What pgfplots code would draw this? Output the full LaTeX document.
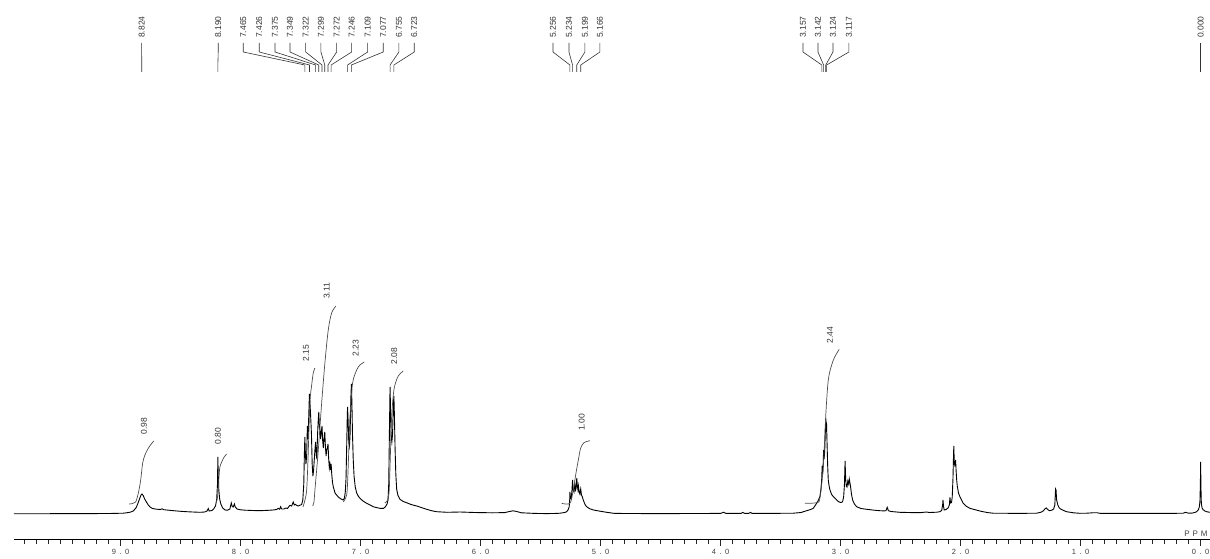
\documentclass[border=0pt]{standalone}
\usepackage{fontspec}
\setmainfont{Liberation Sans}
\usepackage{pgfplots}
\pgfplotsset{compat=1.18}
\newcommand{\pk}[2]{%
  \draw[black!80,line width=0.6pt] (axis cs:#1,471) -- (axis cs:#1,462) -- (axis cs:#2,449) -- (axis cs:#2,442);
  \node[rotate=90,anchor=west,inner sep=0pt,font=\fontsize{8.5}{9}\selectfont,text=black!80] at (axis cs:#1,476) {#2};}
\newcommand{\il}[3]{%
  \node[rotate=90,anchor=center,inner sep=0pt,font=\fontsize{8.5}{9}\selectfont,text=black!80] at (axis cs:#1,#2) {#3};}
\begin{document}
\begin{tikzpicture}
\path[use as bounding box] (0,0) rectangle (1210pt,558pt);
\begin{axis}[at={(14pt,19pt)}, anchor=south west, scale only axis,
  width=1196pt, height=539pt,
  xmin=-0.0775, xmax=9.889, ymin=-25, ymax=514,
  x dir=reverse, axis x line*=bottom, axis y line=none,
  xtick={0,1,2,3,4,5,6,7,8,9},
  xticklabels={0\hspace{3.5pt}.\hspace{3.5pt}0,1\hspace{3.5pt}.\hspace{3.5pt}0,2\hspace{3.5pt}.\hspace{3.5pt}0,3\hspace{3.5pt}.\hspace{3.5pt}0,4\hspace{3.5pt}.\hspace{3.5pt}0,5\hspace{3.5pt}.\hspace{3.5pt}0,6\hspace{3.5pt}.\hspace{3.5pt}0,7\hspace{3.5pt}.\hspace{3.5pt}0,8\hspace{3.5pt}.\hspace{3.5pt}0,9\hspace{3.5pt}.\hspace{3.5pt}0},
  minor xtick={0.1,0.2,...,9.85},
  tick align=outside, major tick length=7pt, minor tick length=5pt,
  every tick/.style={black!85, line width=0.8pt},
  axis line style={black, line width=0.9pt},
  xticklabel style={font=\fontsize{7.5}{8}\selectfont, text=black!75, anchor=north, inner sep=0pt, yshift=-3pt},
  clip=false]
\addplot[black, line width=0.9pt] coordinates {
(9.889,0.3)(9.60,0.3)(9.30,0.4)(9.10,0.5)(8.98,0.8)(8.95,1.2)(8.92,1.8)(8.895,3)(8.87,6.5)(8.855,11)(8.84,16)(8.83,19)(8.822,20)(8.812,18.5)(8.80,15)(8.785,12)(8.77,9)(8.755,7)(8.735,5.5)(8.70,4.8)(8.67,4.5)(8.655,5.2)(8.64,4.3)(8.60,3.8)(8.55,3.2)(8.50,2.7)(8.45,2.3)(8.40,2.0)(8.34,1.7)(8.30,2)(8.28,3)(8.27,5.5)(8.262,3)(8.24,3.5)(8.225,5)(8.21,8)(8.20,14)(8.193,30)(8.19,57)(8.187,40)(8.182,24)(8.175,15)(8.165,10)(8.15,6)(8.13,4)(8.11,3.8)(8.09,5)(8.078,11)(8.07,7.5)(8.062,7)(8.052,10)(8.045,7)(8.03,5)(8.00,4.2)(7.96,3.8)(7.90,3.5)(7.84,3.3)(7.77,3.7)(7.73,4)(7.70,4.5)(7.687,5.7)(7.675,4.8)(7.667,7.3)(7.658,5)(7.64,5)(7.623,6)(7.61,5.5)(7.59,8.7)(7.575,8)(7.562,12)(7.553,9)(7.545,9.7)(7.53,8.5)(7.52,8)(7.505,8.8)(7.492,9.5)(7.482,14)(7.474,30)(7.469,60)(7.465,77)(7.461,62)(7.456,50)(7.450,58)(7.444,88)(7.438,75)(7.432,100)(7.427,120)(7.422,110)(7.416,96)(7.410,80)(7.404,50)(7.398,38)(7.392,44)(7.386,55)(7.380,66)(7.375,72)(7.370,60)(7.365,55)(7.359,80)(7.353,95)(7.349,102)(7.344,88)(7.339,84)(7.334,75)(7.328,82)(7.322,88)(7.317,74)(7.311,66)(7.305,76)(7.299,82)(7.294,68)(7.288,58)(7.283,64)(7.277,66)(7.272,70)(7.267,56)(7.261,46)(7.256,50)(7.250,44)(7.246,50)(7.241,40)(7.235,32)(7.228,27)(7.22,24)(7.214,21)(7.20,19)(7.186,17)(7.17,15.5)(7.158,14.7)(7.145,14)(7.135,16)(7.128,22)(7.122,35)(7.116,70)(7.112,95)(7.109,107)(7.105,95)(7.099,72)(7.093,68)(7.088,80)(7.082,115)(7.077,130)(7.073,112)(7.068,80)(7.062,55)(7.055,38)(7.045,27)(7.033,21)(7.02,18)(7.006,15.7)(6.98,13)(6.95,10.7)(6.92,9)(6.895,7.3)(6.87,6.5)(6.84,5.7)(6.81,5.7)(6.795,7)(6.78,10)(6.772,14)(6.766,30)(6.760,85)(6.755,127)(6.751,105)(6.746,78)(6.740,72)(6.734,80)(6.728,108)(6.723,118)(6.719,100)(6.713,65)(6.707,40)(6.70,25)(6.69,19)(6.672,14.7)(6.645,12.5)(6.617,11.3)(6.58,9.5)(6.533,8)(6.49,6.3)(6.45,4.7)(6.41,3.3)(6.367,2.3)(6.28,1.7)(6.17,2)(6.05,1.5)(5.90,1.2)(5.80,1.4)(5.76,2.5)(5.73,3.2)(5.70,2.5)(5.66,1.2)(5.55,0.6)(5.45,0.4)(5.36,0.6)(5.34,0.8)(5.30,1.5)(5.283,2.3)(5.272,4)(5.262,7.3)(5.258,14)(5.256,22)(5.252,16)(5.246,15)(5.240,22)(5.234,34)(5.229,24)(5.222,22)(5.215,30)(5.209,24)(5.204,26)(5.199,36)(5.194,28)(5.189,24)(5.185,28)(5.179,22)(5.173,20)(5.166,25)(5.160,19)(5.152,17)(5.145,14)(5.13,9.5)(5.117,7.3)(5.09,5.2)(5.06,4)(5.00,2.7)(4.95,1.7)(4.89,0.7)(4.80,0.5)(4.50,0.4)(4.20,0.5)(4.00,0.6)(3.975,1.8)(3.955,0.6)(3.83,0.6)(3.815,1.6)(3.80,0.6)(3.765,0.7)(3.752,1.6)(3.74,0.7)(3.60,0.6)(3.506,0.7)(3.395,0.8)(3.33,1.5)(3.283,3.3)(3.25,4.5)(3.228,5.7)(3.20,10.7)(3.185,14)(3.173,17.3)(3.165,24)(3.158,34)(3.154,48)(3.150,40)(3.146,48)(3.142,64)(3.138,55)(3.133,62)(3.128,80)(3.124,96)(3.120,86)(3.117,88)(3.113,70)(3.108,48)(3.103,34)(3.096,28)(3.089,24)(3.075,19.5)(3.06,17.3)(3.045,15.5)(3.033,14)(3.02,12.5)(3.006,11.7)(2.995,11.5)(2.984,12.3)(2.975,17)(2.968,30)(2.963,53)(2.958,35)(2.953,28)(2.947,27)(2.940,33)(2.933,30)(2.928,35)(2.922,31)(2.917,27.3)(2.91,20)(2.90,14)(2.885,10)(2.867,7.3)(2.83,5.5)(2.783,4.7)(2.72,3.8)(2.673,3.3)(2.64,3.1)(2.622,3.3)(2.612,6.7)(2.602,3.3)(2.58,2.5)(2.506,1.7)(2.40,1.4)(2.34,1.3)(2.285,2)(2.26,1.5)(2.20,1.8)(2.173,2.3)(2.158,3.5)(2.150,9)(2.147,14)(2.143,8)(2.137,4)(2.12,4.5)(2.103,6.3)(2.094,9)(2.089,16.7)(2.084,11)(2.076,11.5)(2.070,17)(2.064,35)(2.060,55)(2.057,68)(2.053,52)(2.049,49)(2.045,51)(2.042,54)(2.038,44)(2.033,34)(2.028,28)(2.018,21)(2.006,17.3)(1.99,13.5)(1.978,10.7)(1.95,7.5)(1.923,5.7)(1.88,4.3)(1.84,3)(1.78,1.5)(1.73,0.8)(1.60,0.7)(1.45,0.7)(1.367,0.8)(1.33,1.8)(1.31,3.2)(1.295,5.5)(1.285,6)(1.275,4.5)(1.26,3.3)(1.24,3.8)(1.225,5)(1.215,9)(1.209,25)(1.205,24)(1.200,14)(1.19,9)(1.18,6.5)(1.17,5.2)(1.14,3.4)(1.117,2.3)(1.06,1.2)(1.006,0.7)(0.95,0.8)(0.89,1.3)(0.86,1.2)(0.84,0.7)(0.60,0.6)(0.40,0.6)(0.20,0.7)(0.145,0.8)(0.125,1.7)(0.105,0.9)(0.07,0.9)(0.045,1.7)(0.033,2.3)(0.02,4)(0.012,6.5)(0.006,12)(0.002,30)(0.000,52)(-0.003,25)(-0.006,10.7)(-0.012,6)(-0.02,4.5)(-0.035,3)(-0.05,2.3)(-0.0775,1.7)
};
% integrals
\addplot[black!70, line width=0.7pt, smooth] coordinates {(8.93,10)(8.90,10.5)(8.875,12)(8.853,20.7)(8.833,34)(8.817,50.7)(8.798,59)(8.77,65.7)(8.745,70)(8.723,73)};
\addplot[black!70, line width=0.7pt, smooth] coordinates {(8.205,12)(8.195,15)(8.187,24)(8.18,38)(8.173,47)(8.158,52)(8.139,56.7)(8.117,60)};
\addplot[black!70, line width=0.7pt, smooth] coordinates {(7.481,7)(7.464,14)(7.45,24)(7.439,54)(7.423,111)(7.408,129)(7.395,141)(7.381,146)};
\addplot[black!70, line width=0.7pt, smooth] coordinates {(7.40,8)(7.389,12)(7.381,24)(7.353,64)(7.325,111)(7.298,151)(7.27,184)(7.242,201)(7.206,208)};
\addplot[black!70, line width=0.7pt, smooth] coordinates {(7.145,12)(7.125,16)(7.112,24)(7.100,60)(7.089,97)(7.067,131)(7.033,144)(7.006,149)(6.97,152)};
\addplot[black!70, line width=0.7pt, smooth] coordinates {(6.798,11)(6.775,14)(6.762,24)(6.752,60)(6.742,97)(6.723,124)(6.695,136)(6.673,140)(6.645,143)};
\addplot[black!70, line width=0.7pt, smooth] coordinates {(5.325,10.7)(5.256,10.7)(5.228,24)(5.206,40.7)(5.186,54)(5.167,65.7)(5.139,71.3)(5.089,73.3)};
\addplot[black!70, line width=0.7pt, smooth] coordinates {(3.298,10.7)(3.2,11.3)(3.173,15.7)(3.145,47)(3.123,100.7)(3.103,134)(3.075,149)(3.048,157.3)(3.012,164.7)};
% integral labels
\il{8.806}{88}{0.98}
\il{8.19}{78}{0.80}
\il{7.455}{161}{2.15}
\il{7.283}{223}{3.11}
\il{7.042}{166}{2.23}
\il{6.72}{158}{2.08}
\il{5.158}{91.5}{1.00}
\il{3.089}{179}{2.44}
% peak labels
\pk{8.825}{8.824}
\pk{8.187}{8.190}
\pk{7.978}{7.465}
\pk{7.845}{7.426}
\pk{7.714}{7.375}
\pk{7.589}{7.349}
\pk{7.458}{7.322}
\pk{7.331}{7.299}
\pk{7.200}{7.272}
\pk{7.075}{7.246}
\pk{6.942}{7.109}
\pk{6.812}{7.077}
\pk{6.681}{6.755}
\pk{6.553}{6.723}
\pk{5.397}{5.256}
\pk{5.264}{5.234}
\pk{5.131}{5.199}
\pk{5.006}{5.166}
\pk{3.314}{3.157}
\pk{3.189}{3.142}
\pk{3.064}{3.124}
\pk{2.931}{3.117}
\pk{0.000}{0.000}
\node[anchor=east,inner sep=0pt,font=\fontsize{8}{9}\selectfont,text=black!75] at (axis cs:-0.06,-20) {P\hspace{3pt}P\hspace{3pt}M};
\end{axis}
\end{tikzpicture}
\end{document}
